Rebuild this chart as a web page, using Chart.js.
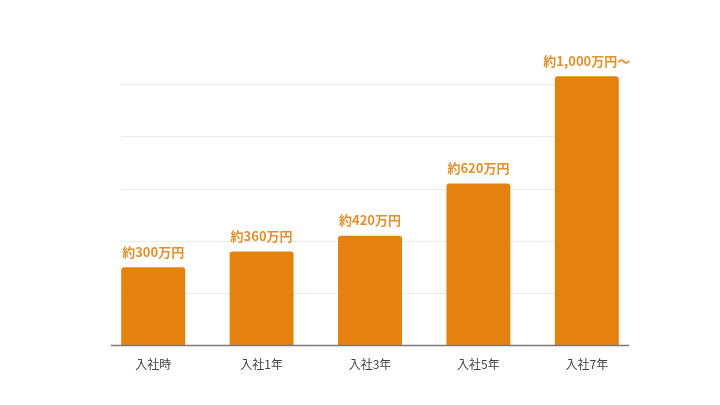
<!DOCTYPE html>
<html lang="ja">
  <head>
    <meta charset="UTF-8" />
    <title>年収モデル</title>
    <script src="https://cdn.jsdelivr.net/npm/chart.js"></script>
    <style>
      html,
      body {
        margin: 0;
        padding: 0;
        background-color: #ffffff;
      }
      #wrap {
        width: 720px;
        height: 405px;
      }
    </style>
  </head>
  <body>
    <div id="wrap"><canvas id="salaryChart"></canvas></div>
    <script>
      // data
      const categories = ["入社時", "入社1年", "入社3年", "入社5年", "入社7年"];
      const salaries = [300, 360, 420, 620, 1030];
      const valueLabels = ["約300万円", "約360万円", "約420万円", "約620万円", "約1,000万円～"];
      const gridValues = [200, 400, 600, 800, 1000];

      const FONT = "'Noto Sans CJK JP', 'Noto Sans', sans-serif";
      const BAR = "#E3820F";

      // faint grid lines + base line, drawn behind the bars
      const backdrop = {
        id: "backdrop",
        beforeDatasetsDraw(chart) {
          const ctx = chart.ctx;
          const y = chart.scales.y;
          const bars = chart.getDatasetMeta(0).data;
          const first = bars[0];
          const last = bars[bars.length - 1];
          const left = first.x - first.width / 2;
          const right = last.x + last.width / 2;
          ctx.save();
          ctx.strokeStyle = "#ebebeb";
          ctx.lineWidth = 1;
          gridValues.forEach((v) => {
            const py = Math.round(y.getPixelForValue(v)) + 0.5;
            ctx.beginPath();
            ctx.moveTo(left, py);
            ctx.lineTo(right, py);
            ctx.stroke();
          });
          ctx.restore();
        },
        afterDatasetsDraw(chart) {
          const ctx = chart.ctx;
          const y = chart.scales.y;
          const area = chart.chartArea;
          const py = y.getPixelForValue(0);
          ctx.save();
          ctx.strokeStyle = "#7a7a7a";
          ctx.lineWidth = 1.5;
          ctx.beginPath();
          ctx.moveTo(area.left + 12, py);
          ctx.lineTo(area.right - 12, py);
          ctx.stroke();

          // value labels above the bars
          ctx.fillStyle = "#DF922F";
          ctx.font = "bold 13px " + FONT;
          ctx.textAlign = "center";
          ctx.textBaseline = "bottom";
          chart.getDatasetMeta(0).data.forEach((bar, i) => {
            ctx.fillText(valueLabels[i], bar.x, bar.y - 9);
          });
          ctx.restore();
        },
      };

      new Chart(document.getElementById("salaryChart").getContext("2d"), {
        type: "bar",
        data: {
          labels: categories,
          datasets: [
            {
              data: salaries,
              backgroundColor: BAR,
              borderRadius: 3,
              borderSkipped: "start",
              barPercentage: 0.59,
              categoryPercentage: 1,
            },
          ],
        },
        options: {
          responsive: true,
          maintainAspectRatio: false,
          animation: false,
          layout: {
            padding: { left: 99, right: 79, top: 58, bottom: 21 },
          },
          plugins: {
            legend: { display: false },
            tooltip: { enabled: false },
          },
          scales: {
            x: {
              grid: { display: false, drawTicks: false },
              border: { display: false },
              ticks: {
                color: "#444444",
                padding: 12,
                font: { family: FONT, size: 12 },
              },
            },
            y: {
              display: false,
              min: 0,
              max: 1100,
            },
          },
        },
        plugins: [backdrop],
      });
    </script>
  </body>
</html>
